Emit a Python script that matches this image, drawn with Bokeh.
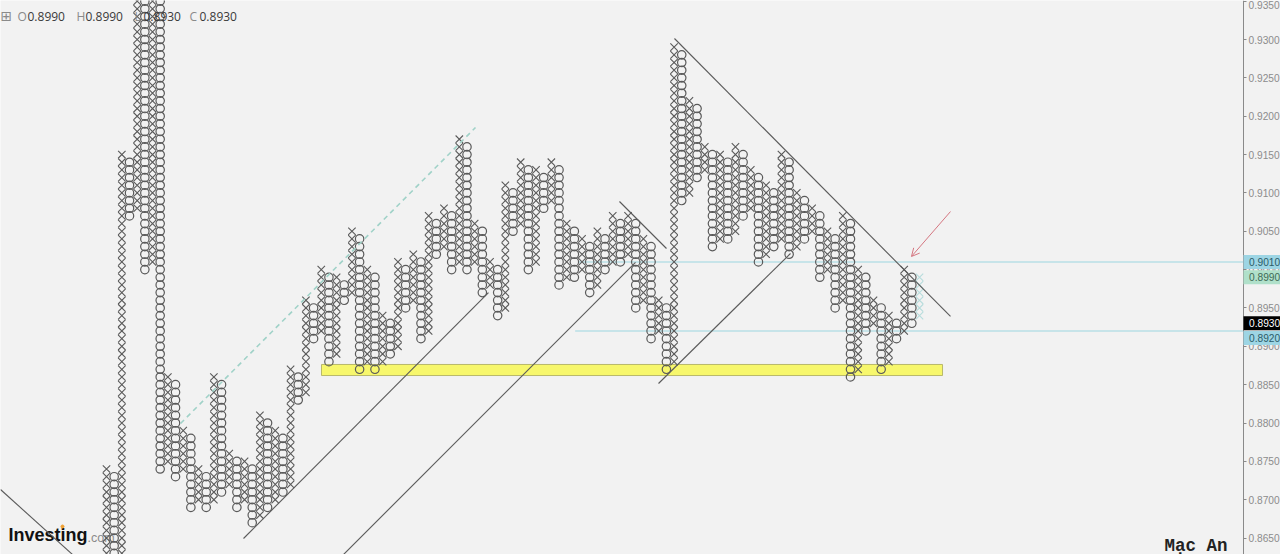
from bokeh.plotting import figure
from bokeh.embed import file_html
from bokeh.resources import INLINE
from bokeh.models import Range1d, FixedTicker, PrintfTickFormatter, Arrow, OpenHead
from bokeh.core.properties import value

# Point & figure columns: even index = X column, odd index = O column
col_high = [0.874,0.873,0.915,0.914,0.937,0.937,0.937,0.937,0.886,0.885,
            0.879,0.878,0.874,0.873,0.886,0.885,0.876,0.875,0.875,0.874,
            0.881,0.880,0.879,0.878,0.887,0.886,0.896,0.895,0.900,0.899,
            0.899,0.898,0.905,0.904,0.900,0.899,0.894,0.893,0.901,0.900,
            0.902,0.901,0.907,0.906,0.908,0.907,0.917,0.916,0.906,0.905,
            0.901,0.900,0.911,0.910,0.914,0.913,0.913,0.912,0.914,0.913,
            0.906,0.905,0.904,0.903,0.905,0.904,0.907,0.906,0.907,0.906,
            0.904,0.903,0.896,0.895,0.929,0.928,0.922,0.921,0.916,0.915,
            0.915,0.914,0.916,0.915,0.913,0.912,0.911,0.910,0.915,0.914,
            0.910,0.909,0.908,0.907,0.905,0.904,0.907,0.906,0.900,0.899,
            0.896,0.895,0.894,0.893,0.900,0.899]
col_low  = [0.862,0.862,0.862,0.907,0.908,0.900,0.901,0.874,0.875,0.873,
            0.874,0.869,0.870,0.869,0.870,0.871,0.872,0.869,0.870,0.867,
            0.868,0.869,0.870,0.871,0.872,0.883,0.884,0.891,0.892,0.888,
            0.889,0.896,0.897,0.887,0.888,0.887,0.888,0.889,0.890,0.895,
            0.896,0.891,0.892,0.902,0.903,0.900,0.901,0.900,0.901,0.897,
            0.898,0.894,0.895,0.905,0.906,0.900,0.901,0.908,0.909,0.898,
            0.899,0.899,0.900,0.897,0.898,0.900,0.901,0.901,0.902,0.895,
            0.896,0.891,0.892,0.887,0.888,0.909,0.910,0.912,0.913,0.903,
            0.904,0.904,0.905,0.907,0.908,0.901,0.902,0.903,0.904,0.902,
            0.903,0.904,0.905,0.899,0.900,0.895,0.896,0.886,0.887,0.892,
            0.893,0.887,0.888,0.891,0.892,0.893]
forming_col = 106
forming_high = 0.899
forming_low = 0.894

price_ticks = [0.865,0.870,0.875,0.880,0.885,0.890,0.895,0.900,0.905,0.910,
               0.915,0.920,0.925,0.930,0.935]

ohlc_letters = ["O","H","L","C"]
ohlc_values = ["0.8990","0.8990","0.8930","0.8930"]

# price flags on the axis
flag_prices = [0.8990, 0.9010, 0.8920, 0.8930]
flag_text = ["0.8990","0.9010","0.8920","0.8930"]

# trend lines as (column, price) pairs
solid_x = [[-13.82,-4.43],[17.86,49.80],[30.90,68.97],[66.88,73.01],[71.97,89.18],[74.05,110.04]]
solid_y = [[0.87133,0.86285],[0.86494,0.89701],[0.86285,0.90093],[0.90888,0.90275],[0.88515,0.90210],[0.93013,0.89389]]
dash_x = [9.65,48.11]
dash_y = [0.87993,0.91853]
level_prices = [0.901,0.892]
level_start = [61.5,61.1]
zone_x = [28.03,109.0]
zone_y = [0.88619,0.88763]
arrow_x = [110.04,104.95]
arrow_y = [0.90757,0.90171]

BG = "#f2f2f2"
INK = "#5a5a5a"
STEP = 7.67          # px per column / per box
W, H = 1280, 554
AXIS_PX = 1243
def py(y): return 0.93-(y-39)/(STEP*1000)
def px(x): return (x-106)/STEP

p = figure(frame_width=W, frame_height=H, output_backend="svg", toolbar_location=None,
           x_range=Range1d(px(0),px(W)), y_range=Range1d(py(H),py(0)),
           y_axis_location="right", x_axis_location=None,
           min_border=0, min_border_right=0, min_border_left=0, min_border_top=0, min_border_bottom=0,
           background_fill_color=BG, border_fill_color=BG, outline_line_color=None)
p.grid.visible = False
ax = p.yaxis[0]
ax.fixed_location = px(AXIS_PX)
ax.ticker = FixedTicker(ticks=price_ticks)
ax.formatter = PrintfTickFormatter(format="%.4f")
ax.axis_line_color = "#8a8a8a"
ax.major_tick_line_color = "#8a8a8a"
ax.major_tick_out = 3
ax.major_tick_in = 0
ax.minor_tick_line_color = None
ax.major_label_standoff = 2
ax.major_label_text_font = "Liberation Sans"
ax.major_label_text_font_size = "10.2px"
ax.major_label_text_color = "#8c8c8c"

# logo, beneath everything
p.text(x=[px(8)],y=[py(534)],text=["Investing"],text_font=value("Liberation Sans"),text_font_style="bold",
       text_font_size="18px",text_color="#111111",text_baseline="middle")
p.text(x=[px(87)],y=[py(537)],text=[".com"],text_font=value("Liberation Sans"),
       text_font_size="12.5px",text_color="#8a8a8a",text_baseline="middle")
p.scatter(x=[px(62)],y=[py(526)],size=3,color="#f0a030")

# yellow zone
p.quad(left=[zone_x[0]],right=[zone_x[1]],bottom=[zone_y[0]],top=[zone_y[1]],
       fill_color="#f7f76c",line_color="#b9b96a",line_width=1)

# levels
p.multi_line(xs=[[level_start[k],px(AXIS_PX)] for k in range(2)],ys=[[v,v] for v in level_prices],
             line_color="#b8dfe6",line_width=1.4)

# columns
xx,xy,ox,oy = [],[],[],[]
for i,(hi,lo) in enumerate(zip(col_high,col_low)):
    n = round((hi-lo)*1000)
    ys = [round(lo+k*0.001,3) for k in range(n+1)]
    if i%2==0:
        xx += [i]*len(ys); xy += ys
    else:
        ox += [i]*len(ys); oy += ys
n = round((forming_high-forming_low)*1000)
fy = [round(forming_low+k*0.001,3) for k in range(n+1)]
p.scatter(x=[forming_col]*len(fy),y=fy,marker="x",size=10.5,line_color="#b7dcdc",line_width=1.1)
p.scatter(x=xx,y=xy,marker="x",size=10.5,line_color=INK,line_width=1.1)
p.scatter(x=ox,y=oy,marker="circle",size=8.4,fill_color=None,line_color=INK,line_width=1.2)

# trend lines
p.multi_line(xs=solid_x,ys=solid_y,line_color="#5a5a5a",line_width=1.1)
p.line(x=dash_x,y=dash_y,line_color="#a0d2c8",line_width=1.6,line_dash="5 4")
p.add_layout(Arrow(end=OpenHead(size=8,line_color="#d47680",line_width=1),x_start=arrow_x[0],y_start=arrow_y[0],
                   x_end=arrow_x[1],y_end=arrow_y[1],line_color="#d47680",line_width=1))

# OHLC legend
lx = [17,76,134,189]
vx = [27,85,143,199]
p.text(x=[px(v) for v in lx],y=[py(16)]*4,text=ohlc_letters,text_font=value("Open Sans"),text_font_size="12px",
       text_color="#8a8a8a",text_baseline="middle")
p.text(x=[px(v) for v in vx],y=[py(16)]*4,text=ohlc_values,text_font=value("Open Sans"),text_font_size="12px",
       text_color="#3a3a3a",text_baseline="middle")
p.text(x=[px(0)],y=[py(15)],text=["\u229e"],text_font=value("DejaVu Sans"),text_font_size="14px",
       text_color="#8a8a8a",text_baseline="middle")

# signature
p.text(x=[px(1164)],y=[py(545)],text=["M\u1ea1c An"],text_font=value("Liberation Mono"),text_font_size="17.5px",
       text_font_style="bold",text_color="#222222",text_baseline="middle")

# axis flags (centre offset in px where the flag was pushed aside)
styles = {"0.8990":("#b0e0ca","#3f6a55",0),"0.9010":("#9dd5e4","#2c5c68",0),
          "0.8920":("#9dd5e4","#2c5c68",7),"0.8930":("#000000","#ffffff",0)}
for pv,t in zip(flag_prices,flag_text):
    bg,fg,off = styles[t]
    c = 39+(0.93-pv)*STEP*1000+off
    p.quad(left=[px(AXIS_PX)],right=[px(W)],top=[py(c-7)],bottom=[py(c+7)],fill_color=bg,line_color=None,level="overlay")
    p.text(x=[px(1248.5)],y=[py(c)],text=[t],text_font=value("Liberation Sans"),text_font_size="10.2px",
           text_color=fg,text_baseline="middle",level="overlay")

open("out.html","w").write(file_html(p,INLINE))
